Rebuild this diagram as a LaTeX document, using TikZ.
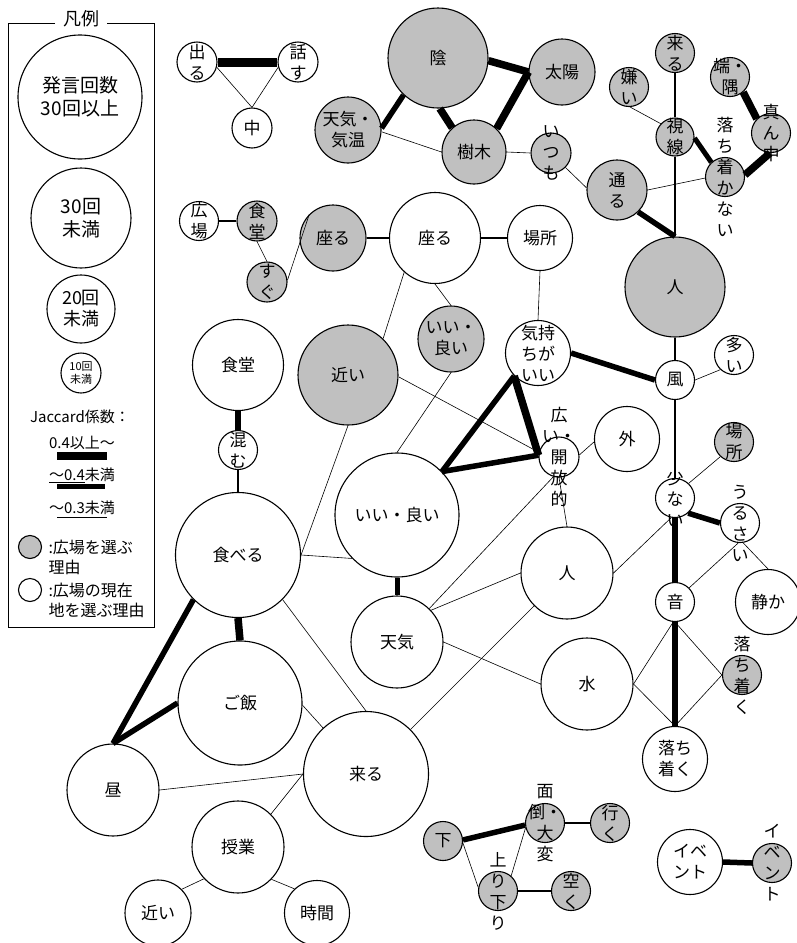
\documentclass[tikz,border=0pt]{standalone}
\usepackage{fontspec}
\setmainfont{Noto Sans CJK JP}
\usepackage{tikz}

\definecolor{kgray}{RGB}{192,192,192}
\newcommand{\wordfont}{\fontsize{17}{21}\selectfont}

\tikzset{
  kw/.style={circle, draw, line width=1.1pt, fill=white, inner sep=0pt, minimum size=#1},
  kg/.style={kw=#1, fill=kgray},
  txt/.style={label={[font=\wordfont, align=center, inner sep=0pt]center:#1}},
  j1/.style={line width=0.6pt},
  j2/.style={line width=1.2pt},
  j3/.style={line width=5.5pt},
  j4/.style={line width=7.5pt},
  j5/.style={line width=9pt}
}

\begin{document}
\begin{tikzpicture}[x=1pt, y=-1pt]
        \useasboundingbox (0,0) rectangle (796,943);

        % 凡例
        \draw[line width=0.8pt] (55,23) -- (8,23) -- (8,627) -- (154,627) -- (154,23) -- (107,23);
        \node[font=\fontsize{18}{21}\selectfont] (hanrei) at (81,19) {凡例};
        \node[kw=124pt, font=\fontsize{19}{23}\selectfont, align=center] (lg30) at (80,97) {発言回数\\30回以上};
        \node[kw=100pt, font=\fontsize{19}{23}\selectfont, align=center] (lg29) at (81,218) {30回\\未満};
        \node[kw=68pt, font=\fontsize{18}{21}\selectfont, align=center] (lg19) at (81,309) {20回\\未満};
        \node[kw=40pt, font=\fontsize{11}{13}\selectfont, align=center] (lg9) at (81,373) {10回\\未満};
        \node[font=\fontsize{15}{18}\selectfont] (jac) at (80,417) {Jaccard係数：};
        \node[font=\fontsize{15}{18}\selectfont] (jac4up) at (82,443) {0.4以上〜};
        \draw[line width=8pt] (57,456) -- (107,456);
        \node[font=\fontsize{15}{18}\selectfont] (jac4) at (82,475) {\underline{〜0.4}未満};
        \draw[line width=5pt] (57,486) -- (105,486);
        \node[font=\fontsize{15}{18}\selectfont] (jac3) at (82,508) {〜0.3未満};
        \draw[line width=0.8pt] (57,517) -- (107,517);
        \node[kg=23pt] (lgG) at (30,547) {};
        \node[anchor=west, align=left, font=\fontsize{16}{20}\selectfont] (lgGt) at (45,557) {:広場を選ぶ\\理由};
        \node[kw=23pt] (lgW) at (30,590) {};
        \node[anchor=west, align=left, font=\fontsize{16}{20}\selectfont] (lgWt) at (45,600) {:広場の現在\\地を選ぶ理由};

        % 上の方
        \node[kw=40pt, txt={出\\る}] (deru) at (197,62) {};
        \node[kw=40pt, txt={話\\す}] (hanasu) at (298,62) {};
        \node[kw=40pt, txt={中}] (naka) at (252,128) {};
        \node[kg=100pt, txt={陰}] (kage) at (438,58) {};
        \node[kg=66pt, txt={天気・\\気温}] (kion) at (348,130) {};
        \node[kg=64pt, txt={樹木}] (jumoku) at (474,152) {};
        \node[kg=66pt, txt={太陽}] (taiyo) at (562,72) {};
        \node[kg=40pt, txt={い\\つ\\も}] (itsumo) at (551,153) {};
        \node[kg=60pt, txt={通\\る}] (toru) at (617,190) {};
        \node[kg=39pt, txt={来\\る}] (kuruG) at (675,53) {};
        \node[kg=39pt, txt={嫌\\い}] (kirai) at (629,87) {};
        \node[kg=38pt, txt={視\\線}] (shisen) at (675,137) {};
        \node[kg=39pt, txt={端・\\隅}] (hasumi) at (730,77) {};
        \node[kg=39pt, txt={真\\ん\\中}] (mannaka) at (771,133) {};
        \node[kg=39pt, txt={落\\ち\\着\\か\\な\\い}] (ochikanai) at (725,177) {};
        \node[kg=100pt, txt={人}] (hitoG) at (675,287) {};

        % 真ん中
        \node[kw=39pt, txt={広\\場}] (hiroba) at (199,221) {};
        \node[kg=40pt, txt={食\\堂}] (shokudoG) at (257,221) {};
        \node[kg=40pt, txt={す\\ぐ}] (sugu) at (267,282) {};
        \node[kg=66pt, txt={座る}] (suwaruG) at (333,238) {};
        \node[kw=91pt, txt={座る}] (suwaru) at (435,238) {};
        \node[kw=65pt, txt={場所}] (basho) at (540,238) {};
        \node[kg=66pt, txt={いい・\\良い}] (iiG) at (451,339) {};
        \node[kw=91pt, txt={食堂}] (shokudo) at (238,365) {};
        \node[kg=100pt, txt={近い}] (chikaiG) at (348,375) {};
        \node[kw=65pt, txt={気持\\ちが\\いい}] (kimochi) at (538,353) {};
        \node[kw=39pt, txt={風}] (kaze) at (675,380) {};
        \node[kw=39pt, txt={多\\い}] (oi) at (734,355) {};
        \node[kw=40pt, txt={広\\い・\\開\\放\\的}] (hiroi) at (559,457) {};
        \node[kw=65pt, txt={外}] (soto) at (627,439) {};
        \node[kg=39pt, txt={場\\所}] (bashoG) at (734,442) {};
        \node[kw=39pt, txt={少\\な\\い}] (sukunai) at (675,498) {};
        \node[kw=39pt, txt={う\\る\\さ\\い}] (urusai) at (740,523) {};
        \node[kw=65pt, txt={静か}] (shizuka) at (768,602) {};
        \node[kw=39pt, txt={音}] (oto) at (675,602) {};
        \node[kw=92pt, txt={人}] (hito) at (567,573) {};
        \node[kw=92pt, txt={水}] (mizu) at (587,684) {};
        \node[kg=39pt, txt={落\\ち\\着\\く}] (ochitsukuG) at (742,675) {};
        \node[kw=65pt, txt={落ち\\着く}] (ochitsuku) at (675,759) {};
        \node[kw=39pt, txt={混\\む}] (komu) at (238,450) {};
        \node[kw=125pt, txt={食べる}] (taberu) at (238,555) {};
        \node[kw=124pt, txt={いい・良い}] (ii) at (397,515) {};
        \node[kw=92pt, txt={天気}] (tenki) at (397,642) {};

        % 下の方
        \node[kw=124pt, txt={ご飯}] (gohan) at (240,703) {};
        \node[kw=92pt, txt={昼}] (hiru) at (113,790) {};
        \node[kw=125pt, txt={来る}] (kuru) at (366,774) {};
        \node[kw=92pt, txt={授業}] (jugyo) at (238,847) {};
        \node[kw=66pt, txt={近い}] (chikai) at (158,913) {};
        \node[kw=65pt, txt={時間}] (jikan) at (317,913) {};
        \node[kg=39pt, txt={下}] (shita) at (443,841) {};
        \node[kg=39pt, txt={面\\倒・\\大\\変}] (mendo) at (545,823) {};
        \node[kg=39pt, txt={行\\く}] (iku) at (610,823) {};
        \node[kg=39pt, txt={上\\り\\下\\り}] (agari) at (498,891) {};
        \node[kg=39pt, txt={空\\く}] (aku) at (571,891) {};
        \node[kw=65pt, txt={イベ\\ント}] (event) at (690,862) {};
        \node[kg=39pt, txt={イ\\ベ\\ン\\ト}] (eventG) at (772,863) {};

        % 線（Jaccard係数）
        \draw[j5] (deru.0) -- (hanasu.180);
        \draw[j1] (deru.-15) -- (naka.90);
        \draw[j1] (hanasu.195) -- (naka.90);
        \draw[j3] (kage.227) -- (kion.3);
        \draw[j4] (kage.-88) -- (jumoku.132);
        \draw[j1] (kion.-3) -- (jumoku.180);
        \draw[j4] (kage.-3) -- (taiyo.180);
        \draw[j4] (taiyo.180) -- (jumoku.46);
        \draw[j1] (jumoku.0) -- (itsumo.180);
        \draw[j1] (itsumo.-45) -- (toru.176);
        \draw[j3] (toru.-46) -- (hitoG.90);
        \draw[j2] (kuruG.-90) -- (shisen.90);
        \draw[j2] (shisen.-90) -- (hitoG.90);
        \draw[j1] (kirai.-87) -- (shisen.137);
        \draw[line width=5pt] (shisen.-3) -- (ochikanai.133);
        \draw[j4] (hasumi.-49) -- (mannaka.135);
        \draw[j4] (mannaka.-93) -- (ochikanai.6);
        \draw[j1] (toru.0) -- (ochikanai.183);

        \draw[j2] (suwaruG.0) -- (suwaru.180);
        \draw[j2] (hiroba.0) -- (shokudoG.180);
        \draw[j1] (shokudoG.-90) -- (sugu.90);
        \draw[j1] (sugu.5) -- (suwaruG.135);
        \draw[j2] (suwaru.0) -- (basho.180);
        \draw[j1] (suwaru.-90) -- (iiG.90);
        \draw[j1] (suwaru.228) -- (chikaiG.46);
        \draw[j1] (basho.-90) -- (kimochi.90);
        \draw[j3] (kimochi.0) -- (kaze.180);
        \draw[j2] (hitoG.-90) -- (kaze.90);
        \draw[j1] (kaze.0) -- (oi.227);
        \draw[j2] (kaze.-90) -- (sukunai.90);
        \draw[j1] (sukunai.47) -- (bashoG.227);
        \draw[j3] (sukunai.-49) -- (urusai.180);
        \draw[j3] (sukunai.-90) -- (oto.90);
        \draw[j1] (urusai.-81) -- (shizuka.90);
        \draw[j1] (oto.45) -- (urusai.-95);
        \draw[j1] (hito.0) -- (sukunai.259);
        \draw[j1] (hiroi.-90) -- (hito.90);
        \draw[j1] (hiroi.6) -- (soto.185);
        \draw[j1] (tenki.46) -- (hiroi.254);
        \draw[j1] (tenki.43) -- (hito.180);
        \draw[j1] (tenki.0) -- (mizu.180);
        \draw[j1] (hito.225) -- (kuru.45);

        % 三角形
        \draw[j3] (ii.44) -- (kimochi.224);
        \draw[j3] (ii.44) -- (hiroi.175);
        \draw[j4] (kimochi.224) -- (hiroi.175);

        \draw[j1] (chikaiG.-90) -- (taberu.0);
        \draw[j1] (taberu.0) -- (ii.224);
        \draw[j1] (chikaiG.-2) -- (hiroi.167);
        \draw[j1] (iiG.-90) -- (ii.90);
        \draw[j3] (shokudo.-90) -- (komu.90);
        \draw[j2] (komu.-90) -- (taberu.90);
        \draw[line width=5pt] (ii.-90) -- (tenki.90);

        \draw[j1] (mizu.0) -- (oto.-95);
        \draw[j1] (mizu.0) -- (ochitsuku.90);
        \draw[j1] (oto.-90) -- (ochitsukuG.180);
        \draw[j1] (ochitsukuG.180) -- (ochitsuku.90);
        \draw[j3] (oto.-90) -- (ochitsuku.90);

        \draw[j1] (taberu.-45) -- (kuru.90);
        \draw[j4] (taberu.-90) -- (gohan.90);
        \draw[j3] (taberu.225) -- (hiru.90);
        \draw[j3] (gohan.180) -- (hiru.90);
        \draw[j1] (gohan.-2) -- (kuru.133);
        \draw[j1] (hiru.0) -- (kuru.180);
        \draw[j1] (kuru.180) -- (jugyo.45);
        \draw[j1] (jugyo.223) -- (chikai.45);
        \draw[j1] (jugyo.-44) -- (jikan.133);

        \draw[j3] (shita.3) -- (mendo.186);
        \draw[j1] (shita.-6) -- (agari.170);
        \draw[j1] (mendo.194) -- (agari.49);
        \draw[j2] (mendo.0) -- (iku.180);
        \draw[j2] (agari.0) -- (aku.180);
        \draw[j3] (event.0) -- (eventG.180);
    \end{tikzpicture}
\end{document}
